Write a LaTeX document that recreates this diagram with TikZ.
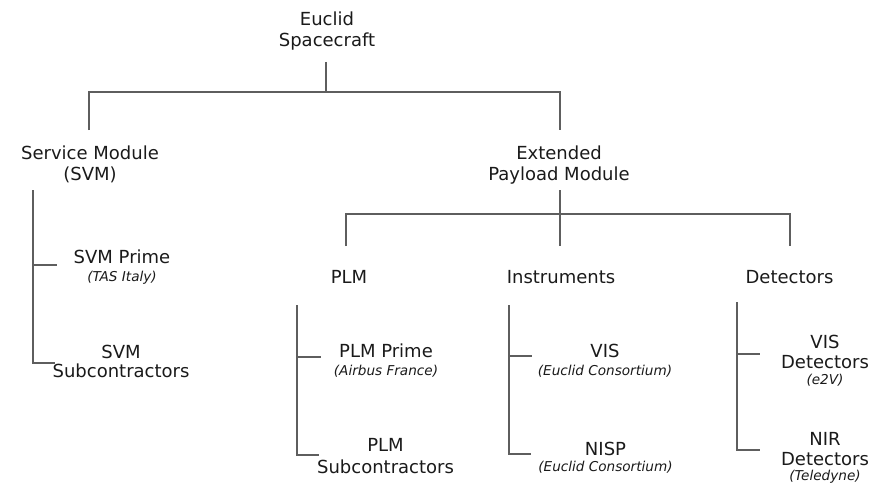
\documentclass[tikz,border=0pt]{standalone}
\usepackage{fontspec}
\setmainfont{DejaVu Sans}
\definecolor{wire}{HTML}{5E5E5E}
\definecolor{txt}{HTML}{1A1A1A}
% contractor line under an item
\newcommand\orgname[1]{{\fontsize{13.6}{16}\selectfont\itshape #1}}
\begin{document}
\begin{tikzpicture}[x=1pt,y=-1pt,
  % nodes are placed by the baseline of their last line
  every node/.style={inner sep=0pt, align=center, anchor=base, text=txt,
                     font=\fontsize{18}{21.5}\selectfont},
  link/.style={draw=wire, line width=2pt, line join=miter},
]
\useasboundingbox (0,0) rectangle (887,487);

% ---- top level
\node (root) at (327,46.7) {Euclid\\Spacecraft};
\node (svm)  at (90,180.5) {Service Module\\(SVM)};
\node (ext)  at (559,180)  {Extended\\[-0.5pt]Payload Module};

% ---- payload groups
\node (plm) at (349,283.3)   {PLM};
\node (ins) at (561,283.3)   {Instruments};
\node (det) at (789.5,283.3) {Detectors};

% ---- items
\node (svm1) at (122,281.7)   {SVM Prime\\[-3pt]\orgname{(TAS Italy)}};
\node (svm2) at (121,377.7)   {SVM\\[-2pt]Subcontractors};
\node (plm1) at (386,375)     {PLM Prime\\[-4pt]\orgname{(Airbus France)}};
\node (plm2) at (385.5,473.3) {PLM\\Subcontractors};
\node (ins1) at (605,375)     {VIS\\[-3.5pt]\orgname{(Euclid Consortium)}};
\node (ins2) at (605.5,471.7) {NISP\\[-5pt]\orgname{(Euclid Consortium)}};
\node (det1) at (825,384)     {VIS\\[-1.5pt]Detectors\\[-6pt]\orgname{(e2V)}};
\node (det2) at (825,480)     {NIR\\[-1.5pt]Detectors\\[-6.5pt]\orgname{(Teledyne)}};

% ---- junction points of the tree
\coordinate (rootS) at (326,62);
\coordinate (busA)  at (326,92);
\coordinate (svmN)  at (89,130);
\coordinate (extN)  at (560,130);
\coordinate (extS)  at (560,190);
\coordinate (busB)  at (560,214);
\coordinate (plmN)  at (346,246);
\coordinate (insN)  at (560,246);
\coordinate (detN)  at (790,246);

\draw[link] (rootS) -- (busA);
\draw[link] (svmN) |- (busA) -| (extN);
\draw[link] (extS) -- (busB);
\draw[link] (plmN) |- (busB) -| (detN);
\draw[link] (busB) -- (insN);

% ---- brackets under each group
\coordinate (svmT) at (33,190);
\coordinate (plmT) at (297,305);
\coordinate (insT) at (509,305);
\coordinate (detT) at (737,302);

\draw[link] (svmT) |- (svmT |- 0,363) -- ++(22,0);
\draw[link] (svmT |- 0,265) -- ++(24,0);
\draw[link] (plmT) |- (plmT |- 0,455) -- ++(22,0);
\draw[link] (plmT |- 0,357) -- ++(24,0);
\draw[link] (insT) |- (insT |- 0,454) -- ++(22,0);
\draw[link] (insT |- 0,356) -- ++(23,0);
\draw[link] (detT) |- (detT |- 0,450) -- ++(23,0);
\draw[link] (detT |- 0,354) -- ++(23,0);
\end{tikzpicture}
\end{document}
